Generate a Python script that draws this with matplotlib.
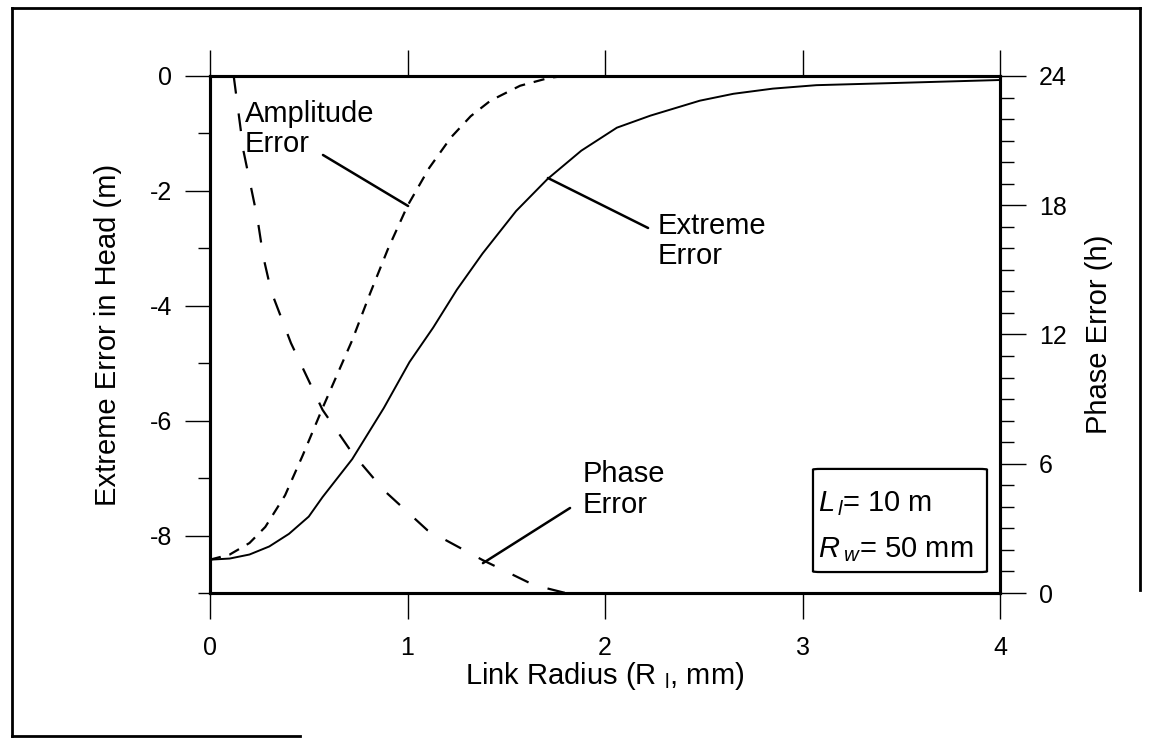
import matplotlib
matplotlib.use("Agg")
import matplotlib.pyplot as plt
from matplotlib.patches import FancyBboxPatch
from matplotlib.lines import Line2D

plt.rcParams['font.family'] = ['Liberation Sans', 'DejaVu Sans']
plt.rcParams['mathtext.fontset'] = 'custom'
plt.rcParams['mathtext.rm'] = 'Liberation Sans'
plt.rcParams['mathtext.it'] = 'Liberation Sans:italic'
plt.rcParams['axes.unicode_minus'] = False

# Extreme error in head (m), solid line
x_extreme = [0.0, 0.1, 0.2, 0.3, 0.4, 0.5, 0.57, 0.72, 0.88, 1.01, 1.13, 1.25, 1.38, 1.55,
             1.71, 1.88, 2.06, 2.23, 2.48, 2.65, 2.85, 3.07, 3.49, 4.0]
y_extreme = [-8.42, -8.40, -8.33, -8.19, -7.97, -7.67, -7.33, -6.67, -5.78, -4.98, -4.38,
             -3.72, -3.09, -2.35, -1.79, -1.30, -0.90, -0.69, -0.43, -0.31, -0.22, -0.16,
             -0.12, -0.07]

# Amplitude error (m), short dashes
x_amp = [0.0, 0.1, 0.2, 0.28, 0.38, 0.47, 0.57, 0.72, 0.81, 0.9, 1.0, 1.11, 1.22, 1.32,
         1.42, 1.57, 1.72, 1.8]
y_amp = [-8.42, -8.33, -8.13, -7.85, -7.30, -6.60, -5.78, -4.60, -3.79, -3.02, -2.26,
         -1.60, -1.07, -0.70, -0.43, -0.17, -0.03, 0.0]

# Phase error (h), long dashes, right axis
x_phase = [0.12, 0.17, 0.24, 0.27, 0.31, 0.41, 0.57, 0.72, 0.88, 1.10, 1.38, 1.64, 1.80]
y_phase = [24.0, 20.5, 17.4, 15.6, 14.0, 11.6, 8.5, 6.5, 4.77, 2.92, 1.53, 0.37, 0.0]

fig = plt.figure(figsize=(11.5, 7.42), dpi=100)
ax = fig.add_axes([0.1826, 0.2008, 0.687, 0.6968])
ax2 = ax.twinx()

ax.plot(x_extreme, y_extreme, color='black', lw=1.4)
ax.plot(x_amp, y_amp, color='black', lw=1.6, dashes=(5, 4))
ax2.plot(x_phase, y_phase, color='black', lw=1.6, dashes=(8, 9))

ax.set_xlim(0, 4)
ax.set_ylim(-9, 0)
ax2.set_ylim(0, 24)

ax.set_xticks([0, 1, 2, 3, 4])
ax.set_yticks([0, -2, -4, -6, -8])
ax.set_yticks([-1, -3, -5, -7, -9], minor=True)
ax2.set_yticks([0, 6, 12, 18, 24])
ax2.set_yticks([v for v in range(25) if v % 6], minor=True)

for a in (ax, ax2):
    for s in a.spines.values():
        s.set_linewidth(2.2)

ax.tick_params(axis='x', which='major', direction='out', length=19, width=1,
               top=True, labeltop=False, labelsize=18, pad=12)
ax.tick_params(axis='y', which='major', direction='out', length=18, width=1,
               labelsize=18, pad=9)
ax.tick_params(axis='y', which='minor', direction='out', length=9, width=1)
ax2.tick_params(axis='y', which='major', direction='out', length=19, width=1,
                labelsize=18, pad=9)
ax2.tick_params(axis='y', which='minor', direction='out', length=10, width=1)

ax.set_xlabel(r'Link Radius (R $_{\mathrm{l}}$, mm)', fontsize=21, labelpad=0)
ax.set_ylabel('Extreme Error in Head (m)', fontsize=21, labelpad=20)
ax2.set_ylabel('Phase Error (h)', fontsize=21, labelpad=13)

# annotations
ax.text(0.177, -0.42, 'Amplitude\nError', fontsize=21, va='top', ha='left', linespacing=1.1)
ax.annotate('', xy=(1.003, -2.263), xytext=(0.572, -1.375),
            arrowprops=dict(arrowstyle='-', lw=1.8, color='black', shrinkA=0, shrinkB=0))
ax.text(2.268, -2.37, 'Extreme\nError', fontsize=21, va='top', ha='left', linespacing=1.1)
ax.annotate('', xy=(1.711, -1.776), xytext=(2.218, -2.646),
            arrowprops=dict(arrowstyle='-', lw=1.8, color='black', shrinkA=0, shrinkB=0))
ax.text(1.889, -6.69, 'Phase\nError', fontsize=21, va='top', ha='left', linespacing=1.1)
ax.annotate('', xy=(1.382, -8.48), xytext=(1.823, -7.52),
            arrowprops=dict(arrowstyle='-', lw=1.8, color='black', shrinkA=0, shrinkB=0))

# parameter box
box = FancyBboxPatch((3.053, -8.635), 0.881, 1.795,
                     boxstyle='round,pad=0,rounding_size=0.04',
                     mutation_aspect=1 / 3.44, fc='white', ec='black', lw=1.6, zorder=3)
ax.add_patch(box)
ax.text(3.08, -7.57, r'$\mathit{L}_{\,\mathit{l}}$= 10 m', fontsize=21, va='baseline',
        ha='left', zorder=4)
ax.text(3.08, -8.37, r'$\mathit{R}_{\;\mathit{w}}$= 50 mm', fontsize=21, va='baseline',
        ha='left', zorder=4)

# outer frame of the scanned figure
fw = 2.0
fig.add_artist(Line2D([12 / 1150, 1140 / 1150], [1 - 8 / 742, 1 - 8 / 742],
                      transform=fig.transFigure, color='black', lw=fw))
fig.add_artist(Line2D([12 / 1150, 12 / 1150], [1 - 8 / 742, 1 - 736 / 742],
                      transform=fig.transFigure, color='black', lw=fw))
fig.add_artist(Line2D([1140 / 1150, 1140 / 1150], [1 - 8 / 742, 1 - 590 / 742],
                      transform=fig.transFigure, color='black', lw=fw))
fig.add_artist(Line2D([12 / 1150, 300 / 1150], [1 - 736 / 742, 1 - 736 / 742],
                      transform=fig.transFigure, color='black', lw=fw))

fig.savefig('out.png', dpi=100)
